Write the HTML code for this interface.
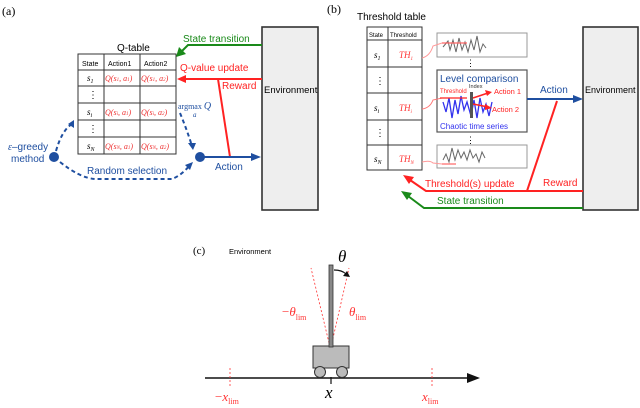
<!DOCTYPE html>
<html><head><meta charset="utf-8"><style>
html,body{margin:0;padding:0;background:#fff;}
svg{display:block;}
text{font-family:"Liberation Sans",sans-serif;}
.s{font-family:"Liberation Serif",serif;}
</style></head><body>
<svg width="640" height="408" viewBox="0 0 640 408" xmlns="http://www.w3.org/2000/svg">
<!-- (a) -->
<text x="2" y="15" class="s" font-size="12">(a)</text>
<rect x="262" y="27" width="56" height="183" fill="#eeeeee" stroke="#333" stroke-width="1.6"/>
<text x="264" y="93" font-size="9.5">Environment</text>
<text x="117" y="51" font-size="10">Q-table</text>
<rect x="78" y="54" width="98" height="100" fill="#fff" stroke="#333" stroke-width="1"/>
<g stroke="#333" stroke-width="1">
<line x1="78" y1="70" x2="176" y2="70"/><line x1="78" y1="86" x2="176" y2="86"/><line x1="78" y1="103" x2="176" y2="103"/><line x1="78" y1="120" x2="176" y2="120"/><line x1="78" y1="137" x2="176" y2="137"/>
<line x1="104" y1="54" x2="104" y2="154"/><line x1="140" y1="54" x2="140" y2="154"/>
</g>
<g font-size="7"><text x="82" y="66">State</text><text x="108" y="66">Action1</text><text x="144" y="66">Action2</text></g>
<g class="s" font-style="italic" font-size="9">
<text x="87" y="81" class="s">s<tspan font-size="6" dy="2">1</tspan></text>
<text x="87" y="115" class="s">s<tspan font-size="6" dy="2">i</tspan></text>
<text x="87" y="149" class="s">s<tspan font-size="6" dy="2">N</tspan></text>
</g>
<g fill="#000" font-size="10"><text x="88" y="98">⋮</text><text x="88" y="132">⋮</text></g>
<g class="s" font-style="italic" font-size="8" fill="#e33">
<text x="105" y="81" class="s">Q(s<tspan font-size="5">1</tspan>, a<tspan font-size="5">1</tspan>)</text>
<text x="141" y="81" class="s">Q(s<tspan font-size="5">1</tspan>, a<tspan font-size="5">2</tspan>)</text>
<text x="105" y="115" class="s">Q(s<tspan font-size="5">i</tspan>, a<tspan font-size="5">1</tspan>)</text>
<text x="141" y="115" class="s">Q(s<tspan font-size="5">i</tspan>, a<tspan font-size="5">2</tspan>)</text>
<text x="105" y="149" class="s">Q(s<tspan font-size="5">N</tspan>, a<tspan font-size="5">1</tspan>)</text>
<text x="141" y="149" class="s">Q(s<tspan font-size="5">N</tspan>, a<tspan font-size="5">2</tspan>)</text>
</g>
<polyline points="262,45 188,45 180,53" fill="none" stroke="#1a8a1a" stroke-width="2"/>
<polygon points="176,57 179,47 186,54" fill="#1a8a1a"/>
<text x="183" y="42" font-size="10" fill="#1a8a1a">State transition</text>
<line x1="262" y1="79" x2="184" y2="79" stroke="#f22" stroke-width="2"/>
<polygon points="177,79 186,75 186,83" fill="#f22"/>
<text x="180" y="71" font-size="10" fill="#f22">Q-value update</text>
<text x="222" y="89" font-size="10" fill="#f22">Reward</text>
<line x1="218" y1="79" x2="230" y2="157" stroke="#f22" stroke-width="2"/>
<line x1="200" y1="157" x2="252" y2="157" stroke="#1f4fa0" stroke-width="2"/>
<polygon points="261,157 251,153 251,161" fill="#1f4fa0"/>
<circle cx="200" cy="157" r="5" fill="#1f4fa0"/>
<text x="215" y="170" font-size="10" fill="#1f4fa0">Action</text>
<text x="178" y="109" class="s" font-size="8" fill="#1f4fa0">argmax <tspan font-style="italic" font-size="10">Q</tspan></text>
<text x="193" y="117" class="s" font-size="7" font-style="italic" fill="#1f4fa0">a</text>
<g stroke="#1f4fa0" stroke-width="2" stroke-dasharray="4,3" fill="none">
<path d="M180,113 Q187,130 192,146"/>
<path d="M56,151 Q62,130 72,124"/>
<path d="M60,162 Q80,178 95,179 L172,179 Q182,175 190,165"/>
</g>
<polygon points="193,150 188,143 196,143" fill="#1f4fa0"/>
<polygon points="74,120 74,128 68,124" fill="#1f4fa0"/>
<polygon points="193,162 190,170 185,165" fill="#1f4fa0"/>
<circle cx="54" cy="157" r="5" fill="#1f4fa0"/>
<text x="8" y="150" font-size="10" fill="#1f4fa0"><tspan class="s" font-style="italic">ε</tspan>–greedy</text>
<text x="11" y="162" font-size="10" fill="#1f4fa0">method</text>
<text x="87" y="174" font-size="10" fill="#1f4fa0">Random selection</text>

<!-- (b) -->
<text x="327" y="13" class="s" font-size="12">(b)</text>
<text x="357" y="20" font-size="10">Threshold table</text>
<rect x="583" y="27" width="55" height="183" fill="#eeeeee" stroke="#333" stroke-width="1.6"/>
<text x="585" y="93" font-size="9">Environment</text>
<rect x="367" y="27" width="55" height="143" fill="#fff" stroke="#333" stroke-width="1"/>
<g stroke="#333" stroke-width="1">
<line x1="367" y1="40" x2="422" y2="40"/><line x1="367" y1="67" x2="422" y2="67"/><line x1="367" y1="93" x2="422" y2="93"/><line x1="367" y1="120" x2="422" y2="120"/><line x1="367" y1="145" x2="422" y2="145"/>
<line x1="388" y1="27" x2="388" y2="170"/>
</g>
<text x="369" y="37" font-size="6">State</text><text x="390" y="37" font-size="6">Threshold</text>
<g class="s" font-style="italic" font-size="9">
<text x="374" y="58" class="s">s<tspan font-size="6" dy="2">1</tspan></text>
<text x="374" y="111" class="s">s<tspan font-size="6" dy="2">i</tspan></text>
<text x="374" y="162" class="s">s<tspan font-size="6" dy="2">N</tspan></text>
</g>
<g font-size="10"><text x="375" y="84">⋮</text><text x="375" y="136">⋮</text></g>
<g class="s" font-style="italic" font-size="9" fill="#f33">
<text x="399" y="58" class="s">TH<tspan font-size="5" dy="2">1</tspan></text>
<text x="399" y="111" class="s">TH<tspan font-size="5" dy="2">i</tspan></text>
<text x="399" y="162" class="s">TH<tspan font-size="5" dy="2">N</tspan></text>
</g>
<rect x="437" y="33" width="90" height="24" fill="#fff" stroke="#999"/>
<rect x="437" y="145" width="90" height="23" fill="#fff" stroke="#999"/>
<rect x="437" y="70" width="90" height="62" fill="#fff" stroke="#555" stroke-width="1.2"/>
<g font-size="9"><text x="466" y="66">⋮</text><text x="466" y="143">⋮</text></g>
<polyline points="443,47 448,41 450,50 453,40 456,52 459,38 462,50 465,42 468,52 471,40 474,50 477,36 480,52 483,44 486,48" fill="none" stroke="#666" stroke-width="1"/>
<polyline points="443,160 446,154 449,162 452,148 455,160 458,150 461,158 464,152 467,160 470,150 473,158 476,154 479,162 482,152 485,158" fill="none" stroke="#666" stroke-width="1"/>
<path d="M422,58 Q430,56 433,46 L442,43" fill="none" stroke="#f99" stroke-width="1"/>
<path d="M422,162 Q430,160 433,163 L442,164" fill="none" stroke="#f99" stroke-width="1"/>
<line x1="442" y1="43" x2="467" y2="43" stroke="#f66" stroke-width="1.2"/>
<line x1="442" y1="164" x2="456" y2="164" stroke="#f66" stroke-width="1.2"/>
<path d="M422,109 Q430,108 433,100 L442,98" fill="none" stroke="#f77" stroke-width="1"/>
<text x="440" y="82" font-size="10" fill="#1f4fa0">Level comparison</text>
<text x="440" y="93" font-size="6" fill="#f22">Threshold</text>
<text x="469" y="88" font-size="5.5" fill="#333">Index</text>
<polyline points="443,102 446,112 449,98 452,118 455,100 458,114 461,96 464,110 467,102 471,116 474,100 477,118 480,98 483,112 486,104 489,116 492,102" fill="none" stroke="#33e" stroke-width="1.3"/>
<line x1="440" y1="98" x2="467" y2="98" stroke="#f22" stroke-width="1.2"/>
<rect x="470" y="92" width="3" height="26" fill="#555"/>
<line x1="473" y1="98" x2="488" y2="93" stroke="#f22" stroke-width="1.5"/>
<polygon points="492,92 485,90 487,96" fill="#f22"/>
<line x1="473" y1="104" x2="488" y2="107" stroke="#f22" stroke-width="1.5"/>
<polygon points="492,108 485,104 485,110" fill="#f22"/>
<text x="494" y="94" font-size="7.5" fill="#f22">Action 1</text>
<text x="492" y="112" font-size="7.5" fill="#f22">Action 2</text>
<text x="440" y="129" font-size="8" fill="#33e">Chaotic time series</text>
<line x1="527" y1="99" x2="574" y2="99" stroke="#1f4fa0" stroke-width="2"/>
<polygon points="583,99 573,95 573,103" fill="#1f4fa0"/>
<text x="540" y="93" font-size="10" fill="#1f4fa0">Action</text>
<line x1="557" y1="101" x2="527" y2="191" stroke="#f22" stroke-width="2"/>
<polyline points="583,191 426,191 410,180" fill="none" stroke="#f22" stroke-width="2"/>
<polygon points="403,175 414,177 409,184" fill="#f22"/>
<text x="425" y="187" font-size="10" fill="#f22">Threshold(s) update</text>
<text x="543" y="186" font-size="10" fill="#f22">Reward</text>
<polyline points="583,208 424,208 408,196" fill="none" stroke="#1a8a1a" stroke-width="2"/>
<polygon points="401,191 412,193 407,200" fill="#1a8a1a"/>
<text x="437" y="204" font-size="10" fill="#1a8a1a">State transition</text>

<!-- (c) -->
<text x="193" y="254" class="s" font-size="11">(c)</text>
<text x="229" y="254" font-size="7.5">Environment</text>
<line x1="205" y1="378" x2="470" y2="378" stroke="#111" stroke-width="1.6"/>
<polygon points="480,378 467,373 467,383" fill="#111"/>
<g stroke="#f33" stroke-width="0.8" stroke-dasharray="2,2" fill="none">
<line x1="230" y1="368" x2="230" y2="388"/>
<line x1="432" y1="368" x2="432" y2="388"/>
<line x1="330" y1="347" x2="311" y2="268"/>
<line x1="331" y1="347" x2="349" y2="268"/>
</g>
<rect x="313" y="346" width="36" height="22" fill="#bbb" stroke="#333" stroke-width="1"/>
<circle cx="320" cy="372" r="5.5" fill="#bbb" stroke="#333"/>
<circle cx="342" cy="372" r="5.5" fill="#bbb" stroke="#333"/>
<rect x="329" y="265" width="4" height="82" fill="#888" stroke="#333" stroke-width="0.8"/>
<line x1="331" y1="377" x2="331" y2="384" stroke="#111" stroke-width="1.2"/>
<path d="M334,270 Q342,270 346,274" fill="none" stroke="#111" stroke-width="1.2"/>
<polygon points="350,277 343,276 347,271" fill="#111"/>
<text x="338" y="262" class="s" font-style="italic" font-size="17">θ</text>
<text x="282" y="316" class="s" font-size="13" fill="#f33">−<tspan font-style="italic">θ</tspan><tspan font-size="8" dy="4">lim</tspan></text>
<text x="349" y="316" class="s" font-size="13" fill="#f33"><tspan font-style="italic">θ</tspan><tspan font-size="8" dy="4">lim</tspan></text>
<text x="325" y="398" class="s" font-style="italic" font-size="17">x</text>
<text x="215" y="401" class="s" font-size="13" fill="#f33">−<tspan font-style="italic">x</tspan><tspan font-size="8" dy="3">lim</tspan></text>
<text x="422" y="401" class="s" font-size="13" fill="#f33"><tspan font-style="italic">x</tspan><tspan font-size="8" dy="3">lim</tspan></text>
</svg>
</body></html>
